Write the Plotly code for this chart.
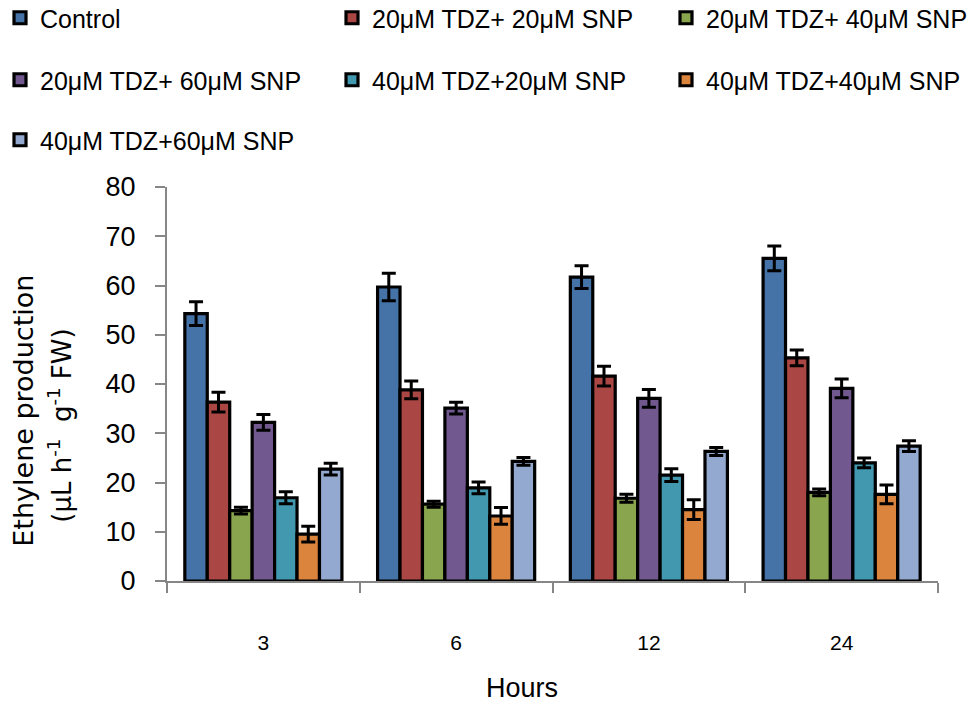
import plotly.graph_objects as go

hours = ["3", "6", "12", "24"]
series_names = [
    "Control",
    "20μM TDZ+ 20μM SNP",
    "20μM TDZ+ 40μM SNP",
    "20μM TDZ+ 60μM SNP",
    "40μM TDZ+20μM SNP",
    "40μM TDZ+40μM SNP",
    "40μM TDZ+60μM SNP",
]
control = [54.3, 59.7, 61.7, 65.5]
control_err = [2.4, 2.8, 2.3, 2.5]
tdz20_snp20 = [36.3, 38.8, 41.6, 45.3]
tdz20_snp20_err = [2.0, 1.8, 2.0, 1.6]
tdz20_snp40 = [14.3, 15.6, 16.8, 18.0]
tdz20_snp40_err = [0.7, 0.6, 0.8, 0.7]
tdz20_snp60 = [32.2, 35.1, 37.1, 39.1]
tdz20_snp60_err = [1.6, 1.2, 1.8, 1.9]
tdz40_snp20 = [16.9, 18.9, 21.5, 24.0]
tdz40_snp20_err = [1.2, 1.2, 1.3, 1.0]
tdz40_snp40 = [9.5, 13.2, 14.5, 17.6]
tdz40_snp40_err = [1.6, 1.7, 2.0, 1.9]
tdz40_snp60 = [22.7, 24.3, 26.3, 27.4]
tdz40_snp60_err = [1.2, 0.8, 0.8, 1.1]

values = [control, tdz20_snp20, tdz20_snp40, tdz20_snp60, tdz40_snp20, tdz40_snp40, tdz40_snp60]
errors = [control_err, tdz20_snp20_err, tdz20_snp40_err, tdz20_snp60_err,
          tdz40_snp20_err, tdz40_snp40_err, tdz40_snp60_err]
colors = ["#4572A7", "#AA4643", "#89A54E", "#71588F", "#4198AF", "#DB843D", "#93A9CF"]

SANS = "Liberation Sans, Arial, sans-serif"
W, H = 972, 706
ml, mr, mt, mb = 167, 34, 187, 124.5
pw = W - ml - mr
ph = H - mt - mb

# legend grid: (text start x, text centre y) in pixels
legend_spots = [(40, 18), (372, 18), (706, 18),
                (40, 80), (372, 80), (706, 80),
                (40, 140)]

fig = go.Figure()
legend_layout = {}
for i, (name, v, e, c) in enumerate(zip(series_names, values, errors, colors)):
    lid = "legend" if i == 0 else f"legend{i + 1}"
    fig.add_trace(go.Bar(
        x=hours, y=v, name=name, legend=lid, showlegend=True,
        marker=dict(color=c, line=dict(color="black", width=3.2)),
        error_y=dict(type="data", array=e, visible=True, color="black",
                     thickness=3, width=7),
    ))
    tx, ty = legend_spots[i]
    legend_layout[lid] = dict(
        orientation="h", visible=True,
        xref="container", yref="container",
        x=max(0, (tx - 40) / W), xanchor="left",
        y=1 - ty / H, yanchor="middle",
        font=dict(family=SANS, size=25, color="black"),
        bgcolor="rgba(0,0,0,0)", borderwidth=0, itemclick=False,
    )

fig.update_layout(
    width=W, height=H, showlegend=True,
    margin=dict(l=ml, r=mr, t=mt, b=mb, autoexpand=False),
    paper_bgcolor="white", plot_bgcolor="white",
    barmode="group", bargap=0.185, bargroupgap=0,
    **legend_layout,
    xaxis=dict(
        showline=True, linecolor="#868686", linewidth=2,
        ticks="outside", tickson="boundaries", ticklen=10, tickcolor="#868686", tickwidth=2,
        tickfont=dict(family=SANS, size=21, color="black"),
        ticklabelstandoff=42, showgrid=False, zeroline=False,
    ),
    yaxis=dict(
        range=[0, 80], dtick=10, showline=True, linecolor="#868686", linewidth=2,
        ticks="outside", ticklen=10, tickcolor="#868686", tickwidth=2,
        tickfont=dict(family=SANS, size=27, color="black"),
        ticklabelstandoff=14, showgrid=False, zeroline=False,
    ),
    annotations=[
        dict(text="Hours", xref="paper", yref="paper",
             x=(522 - ml) / pw, y=-(689 - (H - mb)) / ph,
             xanchor="center", yanchor="middle", showarrow=False,
             font=dict(family=SANS, size=27, color="black")),
        dict(text="Ethylene production", xref="paper", yref="paper",
             x=(24 - ml) / pw, y=((H - mb) - 411) / ph, textangle=-90,
             xanchor="center", yanchor="middle", showarrow=False,
             font=dict(family="DejaVu Sans, sans-serif", size=27, color="black")),
        dict(text="(μL h<sup>-1</sup>&nbsp; g<sup>-1</sup> FW)", xref="paper", yref="paper",
             x=(60 - ml) / pw, y=((H - mb) - 426) / ph, textangle=-90,
             xanchor="center", yanchor="middle", showarrow=False,
             font=dict(family="DejaVu Sans, sans-serif", size=26, color="black")),
    ],
)

fig.write_html("out.html", config={"displayModeBar": False},
               post_script="document.body.style.margin='0';")
